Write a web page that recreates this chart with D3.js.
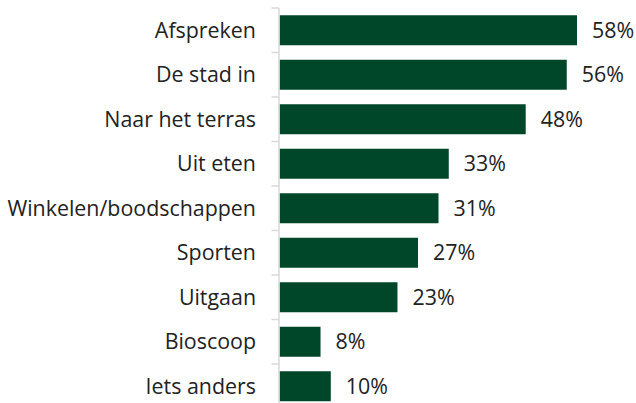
<!DOCTYPE html>
<html><head><meta charset="utf-8">
<script src="https://cdn.jsdelivr.net/npm/d3@7"></script>
<style>body{margin:0;background:#fff}svg{display:block}</style>
</head><body>
<svg id="c" width="636" height="403"></svg>
<script>
const categories = ["Afspreken","De stad in","Naar het terras","Uit eten","Winkelen/boodschappen","Sporten","Uitgaan","Bioscoop","Iets anders"];
const values = [58,56,48,33,31,27,23,8,10];
const valueLabels = ["58%","56%","48%","33%","31%","27%","23%","8%","10%"];

(function(){
const svg = d3.select("#c");
const x0 = 279.5, topY = 8, step = 44.5;
const x = d3.scaleLinear().domain([0, 58]).range([x0, 577]);
const y = d3.scaleBand().domain(categories).range([topY, topY + step*categories.length]).paddingInner(0.326).paddingOuter(0.163);

const font = "'Open Sans', sans-serif";
const textColor = "#222222";
const barColor = "#00472a";

svg.selectAll("rect.bar").data(categories).join("rect")
  .attr("x", x(0)).attr("y", d => y(d))
  .attr("width", (d,i) => x(values[i]) - x(0))
  .attr("height", y.bandwidth())
  .attr("fill", barColor);

const g = svg.append("g");
g.append("line").attr("x1", x0 - 0.5).attr("x2", x0 - 0.5).attr("y1", topY).attr("y2", 403)
  .attr("stroke", "#d9d9d9").attr("stroke-width", 1.5);
d3.range(categories.length + 1).forEach(i => {
  const yy = topY + i*step;
  g.append("line").attr("x1", x0 - 8).attr("x2", x0 - 0.5).attr("y1", yy).attr("y2", yy)
    .attr("stroke", "#d9d9d9").attr("stroke-width", 1.5);
});

svg.selectAll("text.cat").data(categories).join("text")
  .attr("x", 256).attr("y", d => y(d) + y.bandwidth()/2)
  .attr("dy", "0.35em").attr("text-anchor", "end")
  .attr("font-family", font).attr("font-size", 21.4).attr("fill", textColor)
  .text(d => d);

svg.selectAll("text.val").data(categories).join("text")
  .attr("x", (d,i) => x(values[i]) + 15).attr("y", d => y(d) + y.bandwidth()/2)
  .attr("dy", "0.35em")
  .attr("font-family", font).attr("font-size", 21.4).attr("fill", textColor)
  .text((d,i) => valueLabels[i]);
})();
</script>
</body></html>
